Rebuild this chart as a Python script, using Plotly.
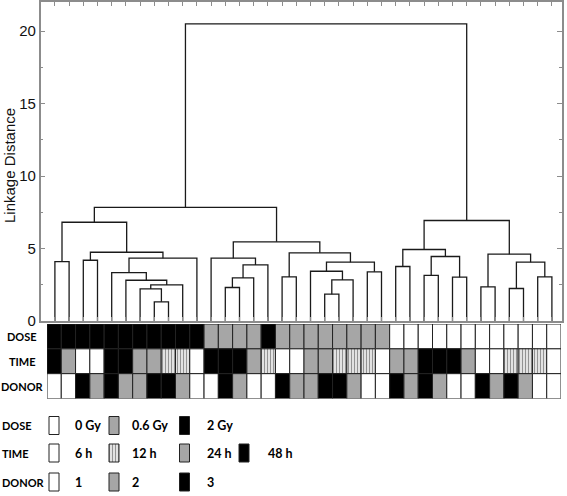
import plotly.graph_objects as go

W, H = 567, 496

# dendrogram: leaves 0-35 in plotted order, merged nodes numbered from 36 upward
merge_a = [7, 6, 37, 5, 4, 40, 0, 2, 43, 42, 12, 46, 47, 11, 16, 19, 51, 18,
           22, 53, 50, 49, 45, 24, 26, 28, 60, 59, 30, 32, 34, 65, 64, 63, 58]
merge_b = [8, 36, 9, 38, 39, 10, 1, 3, 41, 44, 13, 14, 15, 48, 17, 20, 21, 52,
           23, 54, 55, 56, 57, 25, 27, 29, 61, 62, 31, 33, 35, 66, 67, 68, 69]
merge_h = [1.32, 2.21, 2.49, 2.81, 3.34, 4.33, 4.10, 4.19, 4.74, 6.81, 2.31, 2.97,
           3.87, 4.33, 3.04, 1.85, 2.83, 3.43, 3.39, 4.06, 4.70, 5.46, 7.83, 3.76,
           3.14, 3.02, 4.45, 4.93, 2.35, 2.24, 3.04, 4.06, 4.61, 6.93, 20.49]

# sample annotations, one per leaf
dose_cells = ["2", "2", "2", "2", "2", "2", "2", "2", "2", "2", "2", "0.6",
              "0.6", "0.6", "0.6", "2", "0.6", "0.6", "0.6", "0.6", "0.6", "0.6", "0.6", "0.6",
              "0", "0", "0", "0", "0", "0", "0", "0", "0", "0", "0", "0"]
time_cells = [48, 24, 6, 6, 48, 48, 24, 24, 12, 12, 6, 48,
              48, 48, 24, 12, 6, 6, 24, 24, 12, 12, 12, 6,
              24, 24, 48, 48, 48, 24, 6, 6, 12, 12, 12, 6]
donor_cells = [1, 1, 3, 2, 3, 2, 2, 3, 3, 2, 1, 1,
               3, 2, 1, 1, 3, 2, 2, 3, 3, 2, 1, 1,
               3, 2, 3, 2, 1, 1, 3, 2, 3, 2, 1, 1]

dose_levels = ["0", "0.6", "2"]
dose_names = ["0 Gy", "0.6 Gy", "2 Gy"]
time_levels = [6, 12, 24, 48]
time_names = ["6 h", "12 h", "24 h", "48 h"]
donor_levels = [1, 2, 3]
donor_names = ["1", "2", "3"]

WHITE, GRAY, BLACK, STRIPE = "#ffffff", "#a6a6a6", "#000000", "#e2e2e2"
dose_fill = {"0": WHITE, "0.6": GRAY, "2": BLACK}
time_fill = {6: WHITE, 12: STRIPE, 24: GRAY, 48: BLACK}
donor_fill = {1: WHITE, 2: GRAY, 3: BLACK}


def px(x):
    return x / W


def py(y):
    return 1 - y / H


fig = go.Figure()

# dendrogram links
n_leaves = len(dose_cells)
pos = {i: i + 1 for i in range(n_leaves)}
hgt = {i: 0.0 for i in range(n_leaves)}
lx, ly = [], []
for k, (a, b, h) in enumerate(zip(merge_a, merge_b, merge_h)):
    lx += [pos[a], pos[a], pos[b], pos[b], None]
    ly += [hgt[a], h, h, hgt[b], None]
    pos[n_leaves + k] = (pos[a] + pos[b]) / 2
    hgt[n_leaves + k] = h
fig.add_trace(go.Scatter(x=lx, y=ly, mode="lines", line=dict(color="#1a1a1a", width=1.3),
                         hoverinfo="skip", showlegend=False))


def cell_bar(values, fill, base, xs, xa, ya, width, height):
    colors = [fill[v] for v in values]
    shapes = ["|" if c == STRIPE else "" for c in colors]
    return go.Bar(x=xs, y=[height] * len(values), base=base, width=width,
                  xaxis=xa, yaxis=ya, showlegend=False, hoverinfo="skip",
                  marker=dict(color=colors, line=dict(color="#222222", width=1),
                              pattern=dict(shape=shapes, fillmode="overlay",
                                           fgcolor="#8f8f8f", size=3, solidity=0.35)))


# annotation strips
idx = list(range(n_leaves))
fig.add_trace(cell_bar(dose_cells, dose_fill, 2, idx, "x2", "y2", 1, 1))
fig.add_trace(cell_bar(time_cells, time_fill, 1, idx, "x2", "y2", 1, 1))
fig.add_trace(cell_bar(donor_cells, donor_fill, 0, idx, "x2", "y2", 1, 1))

# key boxes (drawn in a pixel-scaled overlay axis)
box_x = [54, 114, 184.5, 244]
text_x = [73, 130, 205, 266]
key_rows = [("DOSE", dose_levels, dose_names, dose_fill, 425.5),
            ("TIME", time_levels, time_names, time_fill, 453),
            ("DONOR", donor_levels, donor_names, donor_fill, 482)]
name_font = dict(family="Lato", size=11, color="#000000")
value_font = dict(family="Lato", size=12.5, color="#000000")
for name, levels, names, fill, yc in key_rows:
    fig.add_trace(cell_bar(levels, fill, yc + 9, box_x[:len(levels)], "x3", "y3", 10, -18))
    fig.add_annotation(x=0, y=yc, xref="x3", yref="y3", text="<b>%s</b>" % name,
                       showarrow=False, xanchor="left", font=name_font)
    for tx, nm in zip(text_x, names):
        fig.add_annotation(x=tx, y=yc, xref="x3", yref="y3", text="<b>%s</b>" % nm,
                           showarrow=False, xanchor="left", font=value_font)

for name, yc in [("DOSE", 336.5), ("TIME", 361.5), ("DONOR", 386)]:
    fig.add_annotation(x=22, y=yc, xref="x3", yref="y3", text="<b>%s</b>" % name,
                       showarrow=False, xanchor="center", font=name_font)

fig.add_annotation(x=9, y=166, xref="x3", yref="y3", text="Linkage Distance",
                   textangle=-90, showarrow=False,
                   font=dict(family="Liberation Sans", size=15, color="#111111"))

axis_gray = "#8c8c8c"
fig.update_layout(
    width=W, height=H, margin=dict(l=0, r=0, t=0, b=0),
    paper_bgcolor="white", plot_bgcolor="rgba(0,0,0,0)", barmode="overlay",
    xaxis=dict(domain=[px(40.7), px(561.7)], range=[0, 36.69], tickvals=list(range(1, 37)),
               ticks="inside", ticklen=4, tickcolor=axis_gray, showticklabels=False,
               showline=True, linecolor=axis_gray, linewidth=1.5, mirror="allticks",
               showgrid=False, zeroline=False, automargin=False),
    yaxis=dict(domain=[py(321), py(2)], range=[0, 22], tickvals=[0, 5, 10, 15, 20],
               ticks="inside", ticklen=5, tickcolor=axis_gray,
               minor=dict(dtick=2.5, ticks="inside", ticklen=3, tickcolor=axis_gray, showgrid=False),
               tickfont=dict(family="Liberation Sans", size=15, color="#111111"),
               showline=True, linecolor=axis_gray, linewidth=1.5, mirror="allticks",
               showgrid=False, zeroline=False, automargin=False),
    xaxis2=dict(domain=[px(47), px(561)], range=[-0.5, 35.5], visible=False, anchor="y2",
                automargin=False),
    yaxis2=dict(domain=[py(398.5), py(324)], range=[0, 3], visible=False, anchor="x2",
                automargin=False),
    xaxis3=dict(domain=[0, 1], range=[0, W], visible=False, anchor="y3", automargin=False),
    yaxis3=dict(domain=[0, 1], range=[H, 0], visible=False, anchor="x3", automargin=False),
)

# page body margin would otherwise shift the fixed-size figure
fig.write_html("out.html", config={"displayModeBar": False},
               post_script="document.body.style.margin = '0';")
